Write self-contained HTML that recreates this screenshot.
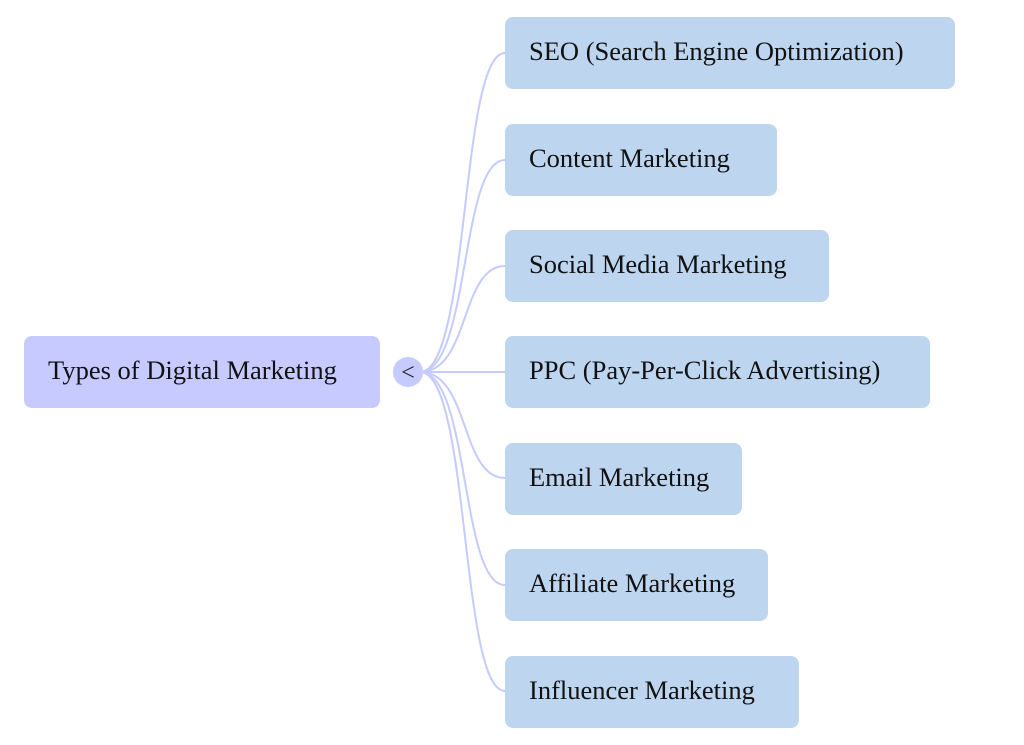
<!DOCTYPE html>
<html><head><style>
body{margin:0;width:1024px;height:745px;background:#fff;position:relative;overflow:hidden;font-family:"Liberation Serif",serif;}
.b{position:absolute;background:#bdd5ef;border-radius:8px;height:72px;line-height:68px;font-size:26.5px;color:#111;padding-left:24px;box-sizing:border-box;white-space:nowrap;}
</style></head><body>
<svg width="1024" height="745" style="position:absolute;left:0;top:0">
<g fill="none" stroke="#c6cbff" stroke-width="2">
<path d="M420,372 C470,372 460,53 505,53"/>
<path d="M420,372 C470,372 460,160 505,160"/>
<path d="M420,372 C470,372 460,266 505,266"/>
<path d="M420,372 L505,372"/>
<path d="M420,372 C470,372 460,478 505,478"/>
<path d="M420,372 C470,372 460,585 505,585"/>
<path d="M420,372 C470,372 460,691 505,691"/>
</g>
<circle cx="408" cy="372" r="15" fill="#c6cbff"/>
<text x="408" y="380" font-family="Liberation Serif, serif" font-size="24" text-anchor="middle" fill="#222">&lt;</text>
</svg>
<div class="b" style="left:24px;top:336px;width:356px;background:#c6caff">Types of Digital Marketing</div>
<div class="b" style="left:505px;top:17px;width:450px">SEO (Search Engine Optimization)</div>
<div class="b" style="left:505px;top:124px;width:272px">Content Marketing</div>
<div class="b" style="left:505px;top:230px;width:324px">Social Media Marketing</div>
<div class="b" style="left:505px;top:336px;width:425px">PPC (Pay-Per-Click Advertising)</div>
<div class="b" style="left:505px;top:443px;width:237px">Email Marketing</div>
<div class="b" style="left:505px;top:549px;width:263px">Affiliate Marketing</div>
<div class="b" style="left:505px;top:656px;width:294px">Influencer Marketing</div>
</body></html>
